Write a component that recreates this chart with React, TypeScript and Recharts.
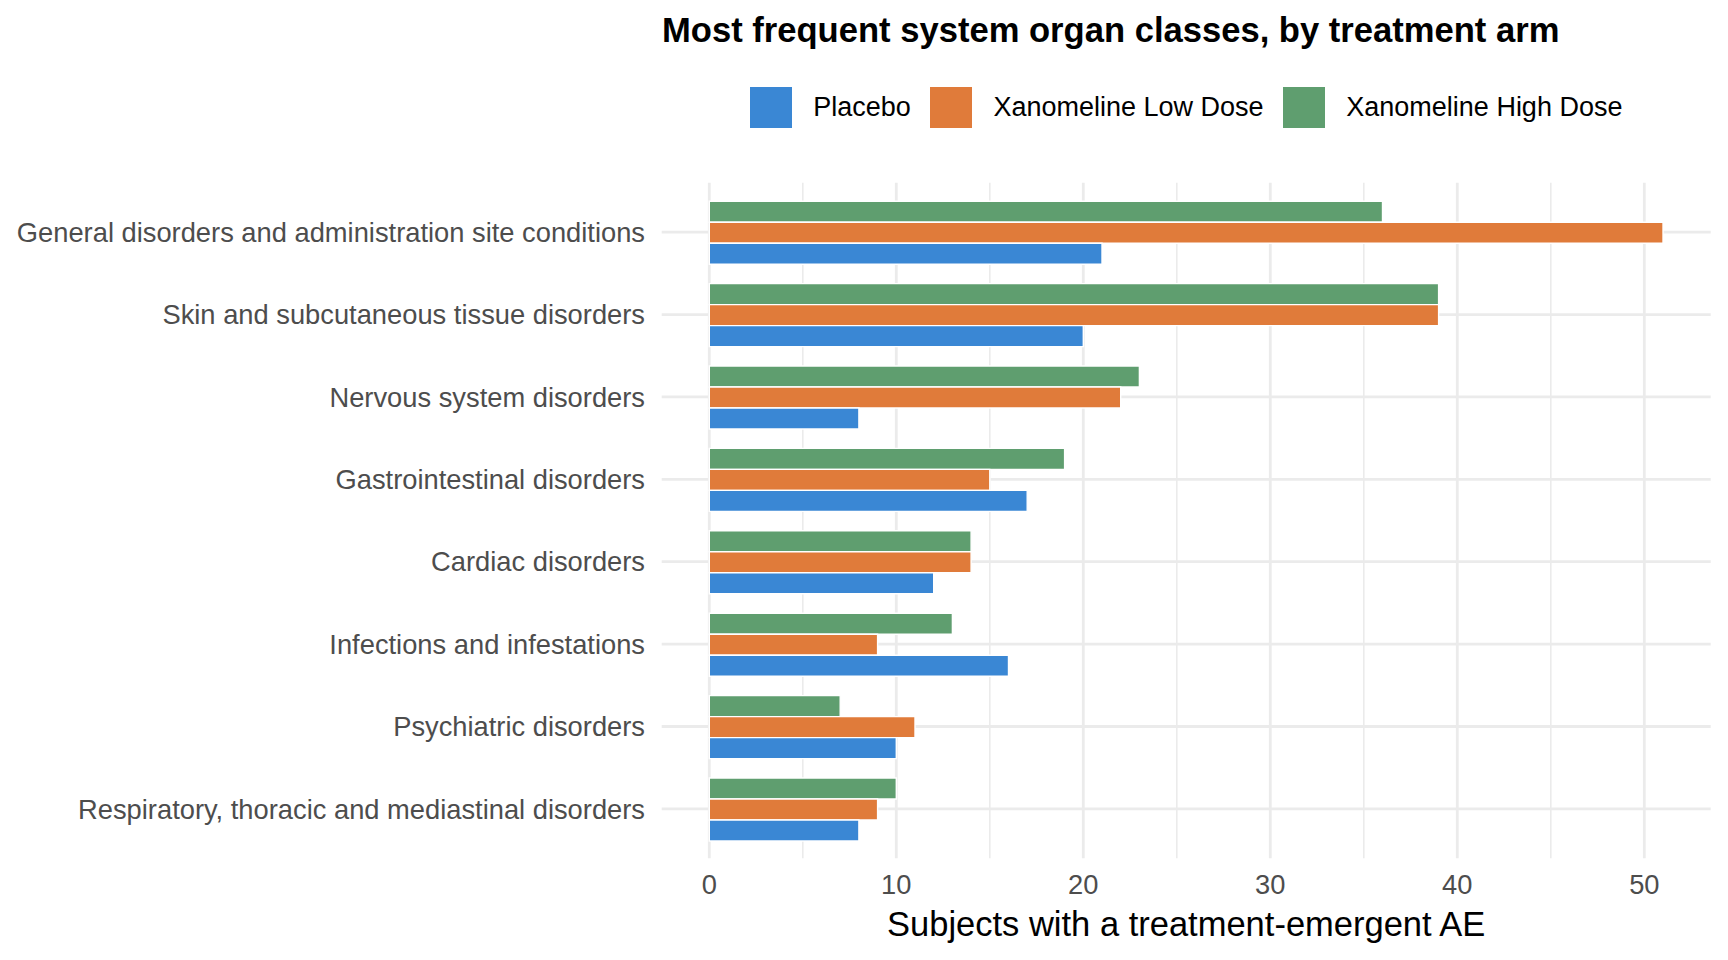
import React from 'react';
import { BarChart, Bar, XAxis, YAxis, CartesianGrid } from 'recharts';

// System organ classes, most frequent first
const categories = [
  'General disorders and administration site conditions',
  'Skin and subcutaneous tissue disorders',
  'Nervous system disorders',
  'Gastrointestinal disorders',
  'Cardiac disorders',
  'Infections and infestations',
  'Psychiatric disorders',
  'Respiratory, thoracic and mediastinal disorders',
];

// Subjects with a treatment-emergent AE, per arm
const placebo = [21, 20, 8, 17, 12, 16, 10, 8];
const lowDose = [51, 39, 22, 15, 14, 9, 11, 9];
const highDose = [36, 39, 23, 19, 14, 13, 7, 10];

const xTicks = [0, 10, 20, 30, 40, 50];
const xMinorTicks = [5, 15, 25, 35, 45];

const arms = [
  { key: 'placebo', name: 'Placebo', color: '#3a87d4' },
  { key: 'low', name: 'Xanomeline Low Dose', color: '#e07b3a' },
  { key: 'high', name: 'Xanomeline High Dose', color: '#5f9e6f' },
];

const data = categories.map((soc, i) => ({
  soc,
  placebo: placebo[i],
  low: lowDose[i],
  high: highDose[i],
}));

const FONT = '"Liberation Sans", Arial, Helvetica, sans-serif';
const GRID = '#ebebeb';

// Bars are listed top-to-bottom within each category
const barOrder = ['high', 'low', 'placebo'];

export default function App() {
  return (
    <div
      style={{
        position: 'fixed',
        left: 0,
        top: 0,
        width: 1728,
        height: 960,
        background: '#ffffff',
        fontFamily: FONT,
      }}
    >
      <svg
        width={1728}
        height={60}
        style={{ position: 'absolute', left: 0, top: 0 }}
      >
        <text x={662} y={41.7} fontFamily={FONT} fontWeight="bold" fontSize={34.6} fill="#000">
          Most frequent system organ classes, by treatment arm
        </text>
      </svg>

      <div
        style={{
          position: 'absolute',
          left: 661.7,
          top: 86.7,
          width: 1049,
          height: 41.7,
          display: 'flex',
          justifyContent: 'center',
          alignItems: 'center',
        }}
      >
        {arms.map((a, i) => (
          <div
            key={a.key}
            style={{
              display: 'flex',
              alignItems: 'center',
              marginRight: i < arms.length - 1 ? 19.4 : 0,
            }}
          >
            <div style={{ width: 41.7, height: 41.7, background: a.color }} />
            <span
              style={{
                marginLeft: 21.6,
                fontSize: 27,
                color: '#000',
                whiteSpace: 'nowrap',
              }}
            >
              {a.name}
            </span>
          </div>
        ))}
      </div>

      <div style={{ position: 'absolute', left: 0, top: 0 }}>
        <BarChart
          width={1728}
          height={960}
          data={data}
          layout="vertical"
          margin={{ top: 182.7, right: 17.3, bottom: 41.7, left: 0 }}
          barCategoryGap={10.3}
          barGap={0}
        >
          <CartesianGrid
            xAxisId="minor"
            horizontal={false}
            stroke={GRID}
            strokeWidth={1.6}
            syncWithTicks
          />
          <CartesianGrid stroke={GRID} strokeWidth={2.8} syncWithTicks />
          <XAxis
            xAxisId="minor"
            type="number"
            domain={[-2.545, 53.55]}
            ticks={xMinorTicks}
            allowDataOverflow
            hide
          />
          <XAxis
            type="number"
            domain={[-2.545, 53.55]}
            ticks={xTicks}
            allowDataOverflow
            height={60}
            axisLine={false}
            tickLine={false}
            tickSize={0}
            tickMargin={16.7}
            tick={{ fill: '#4d4d4d', fontSize: 27.3, fontFamily: FONT }}
            label={{
              value: 'Subjects with a treatment-emergent AE',
              position: 'bottom',
              offset: -6.6,
              fill: '#000',
              fontSize: 34.5,
              fontFamily: FONT,
            }}
          />
          <YAxis
            type="category"
            dataKey="soc"
            width={661.7}
            axisLine={false}
            tickLine={false}
            tickSize={0}
            tickMargin={16.7}
            padding={{ top: 8.24, bottom: 8.24 }}
            interval={0}
            tick={{ fill: '#4d4d4d', fontSize: 27.3, fontFamily: FONT }}
          />
          {barOrder.map((k) => {
            const arm = arms.find((a) => a.key === k)!;
            return (
              <Bar
                key={k}
                dataKey={k}
                name={arm.name}
                fill={arm.color}
                stroke="#ffffff"
                strokeWidth={1.4}
                isAnimationActive={false}
              />
            );
          })}
        </BarChart>
      </div>
    </div>
  );
}
